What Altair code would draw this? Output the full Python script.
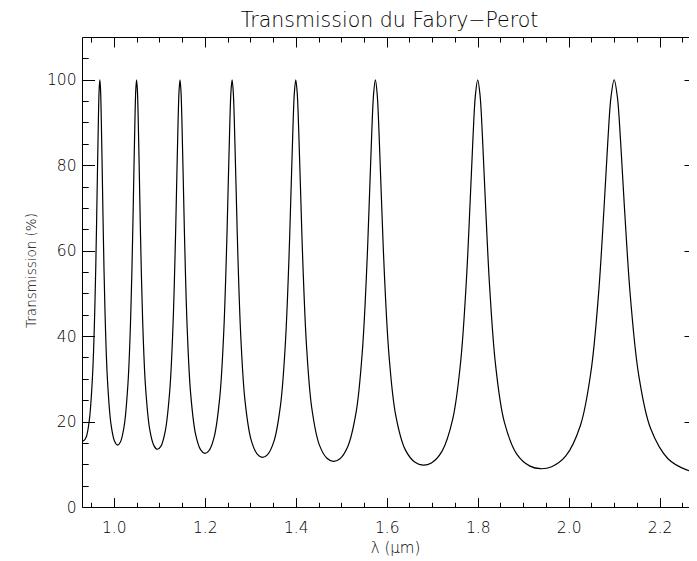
import altair as alt
import pandas as pd

# Wavelength (µm) and transmission (%)
wavelength_um = [
    0.93002, 0.93333, 0.93890, 0.94595, 0.95310, 0.95817, 0.96183, 0.96441, 0.96626, 0.96774,
    0.96923, 0.97072, 0.97222, 0.97410, 0.97674, 0.98055, 0.98592, 0.99369, 1.00159, 1.00800,
    1.01449, 1.02273, 1.03110, 1.03704, 1.04132, 1.04434, 1.04651, 1.04825, 1.05000, 1.05175,
    1.05351, 1.05572, 1.05882, 1.06329, 1.06961, 1.07877, 1.08808, 1.09565, 1.10333, 1.11307,
    1.12300, 1.13005, 1.13514, 1.13873, 1.14130, 1.14338, 1.14545, 1.14754, 1.14964, 1.15226,
    1.15596, 1.16129, 1.16883, 1.17978, 1.19093, 1.20000, 1.20921, 1.22093, 1.23288, 1.24138,
    1.24752, 1.25186, 1.25498, 1.25749, 1.26000, 1.26253, 1.26506, 1.26824, 1.27273, 1.27919,
    1.28834, 1.30165, 1.31524, 1.32632, 1.33758, 1.35193, 1.36659, 1.37705, 1.38462, 1.38996,
    1.39381, 1.39690, 1.40000, 1.40312, 1.40625, 1.41019, 1.41573, 1.42373, 1.43508, 1.45161,
    1.46853, 1.48235, 1.49644, 1.51442, 1.53285, 1.54601, 1.55556, 1.56231, 1.56716, 1.57107,
    1.57500, 1.57895, 1.58292, 1.58790, 1.59494, 1.60510, 1.61954, 1.64063, 1.66227, 1.68000,
    1.69811, 1.72131, 1.74515, 1.76224, 1.77465, 1.78344, 1.78977, 1.79487, 1.80000, 1.80516,
    1.81035, 1.81687, 1.82609, 1.83942, 1.85841, 1.88623, 1.91489, 1.93846, 1.96262, 1.99367,
    2.02572, 2.04878, 2.06557, 2.07749, 2.08609, 2.09302, 2.10000, 2.10702, 2.11409, 2.12300,
    2.13559, 2.15385, 2.17993, 2.21831, 2.25807, 2.28000,
]
transmission_pct = [
    15.82, 15.48, 16.25, 20.21, 30.61, 46.38, 65.03, 81.16, 91.84, 97.82,
    100.0, 97.81, 91.81, 81.02, 64.68, 45.80, 29.89, 19.43, 15.38, 14.49,
    15.22, 18.99, 28.98, 44.44, 63.23, 79.92, 91.23, 97.64, 100.0, 97.63,
    91.18, 79.76, 62.85, 43.84, 28.25, 18.21, 14.37, 13.52, 14.20, 17.77,
    27.32, 42.42, 61.29, 78.57, 90.55, 97.44, 100.0, 97.43, 90.49, 78.39,
    60.89, 41.80, 26.59, 16.99, 13.36, 12.56, 13.20, 16.55, 25.65, 40.33,
    59.23, 77.08, 89.78, 97.22, 100.0, 97.21, 89.72, 76.88, 58.80, 39.69,
    24.91, 15.78, 12.37, 11.62, 12.21, 15.35, 23.97, 38.18, 57.03, 75.44,
    88.92, 96.96, 100.0, 96.95, 88.84, 75.22, 56.57, 37.52, 23.23, 14.59,
    11.40, 10.70, 11.24, 14.17, 22.30, 35.98, 54.69, 73.64, 87.94, 96.67,
    100.0, 96.66, 87.86, 73.39, 54.21, 35.31, 21.57, 13.43, 10.46, 9.80,
    10.31, 13.03, 20.65, 33.75, 52.24, 71.68, 86.86, 96.33, 100.0, 96.32,
    86.77, 71.42, 51.75, 33.08, 19.94, 12.32, 9.56, 8.96, 9.43, 11.94,
    19.07, 31.56, 49.76, 69.62, 85.69, 95.97, 100.0, 95.95, 85.59, 69.35,
    49.27, 30.93, 18.41, 11.30, 8.75, 8.27,
]

x_major = [1.0, 1.2, 1.4, 1.6, 1.8, 2.0, 2.2]
x_minor = [0.95, 1.0, 1.05, 1.1, 1.15, 1.2, 1.25, 1.3, 1.35, 1.4, 1.45, 1.5, 1.55, 1.6,
           1.65, 1.7, 1.75, 1.8, 1.85, 1.9, 1.95, 2.0, 2.05, 2.1, 2.15, 2.2, 2.25]
y_major = [0, 20, 40, 60, 80, 100]
y_minor = [5, 10, 15, 20, 25, 30, 35, 40, 45, 50, 55, 60, 65, 70, 75, 80, 85, 90, 95, 100, 105]

title_text = "Transmission du Fabry−Perot"
x_title = "λ (μm)"
y_title = "Transmission (%)"

FONT = "DejaVu Sans"
INK = "#000000"
TEXT = "#000000"
WEIGHT = 200

df = pd.DataFrame({"lam": wavelength_um, "T": transmission_pct})

xs = alt.Scale(domain=[0.93, 2.2645], nice=False, zero=False)
ys = alt.Scale(domain=[0, 110], nice=False, zero=False)


def tick_axis(orient, values, size):
    return alt.Axis(orient=orient, values=values, offset=-size, tickSize=size,
                    ticks=True, tickColor=INK, tickWidth=1, domain=False,
                    labels=False, grid=False, title=None)


def layer(xaxis, yaxis, visible=False):
    return alt.Chart(df).mark_line(
        interpolate="catmull-rom", color=INK, strokeWidth=1.2, clip=True,
        opacity=1 if visible else 0,
    ).encode(
        x=alt.X("lam:Q", scale=xs, axis=xaxis),
        y=alt.Y("T:Q", scale=ys, axis=yaxis),
    )


x_main = alt.Axis(
    orient="bottom", values=x_major, format=".1f", ticks=False, domain=True,
    domainColor=INK, domainWidth=1, grid=False, labelFont=FONT, labelFontSize=15.5,
    labelFontWeight=WEIGHT, labelColor=TEXT, labelPadding=13, labelFlush=False,
    title=x_title, titleFont=FONT, titleFontSize=15, titleFontWeight=WEIGHT,
    titleColor=TEXT, titleX=313, titleY=45, titleBaseline="alphabetic", titleAlign="center",
)
y_main = alt.Axis(
    orient="left", values=y_major, format="d", ticks=False, domain=True,
    domainColor=INK, domainWidth=1, grid=False, labelFont=FONT, labelFontSize=15.5,
    labelFontWeight=WEIGHT, labelColor=TEXT, labelPadding=6, labelFlush=False,
    title=y_title, titleFont=FONT, titleFontSize=13.5, titleFontWeight=WEIGHT,
    titleColor=TEXT, titleX=-47, titleY=233, titleBaseline="alphabetic", titleAlign="center",
)
x_top_line = alt.Axis(orient="top", ticks=False, labels=False, domain=True,
                      domainColor=INK, domainWidth=1, grid=False, title=None)

chart = alt.layer(
    layer(x_main, y_main, visible=True),
    layer(tick_axis("bottom", x_major, 9.4), tick_axis("left", y_major, 12.5)),
    layer(tick_axis("bottom", x_minor, 4.7), tick_axis("left", y_minor, 6.2)),
    layer(x_top_line, tick_axis("right", y_major, 5)),
    layer(tick_axis("top", x_major, 10), None),
    layer(tick_axis("top", x_minor, 5), None),
).resolve_axis(
    x="independent", y="independent"
).properties(
    width=607,
    height=470,
    title=alt.TitleParams(title_text, font=FONT, fontSize=20.5, fontWeight=WEIGHT,
                          color=TEXT, anchor="middle", frame="group",
                          baseline="alphabetic", offset=9, dx=4, dy=20),
    autosize=alt.AutoSizeParams(type="none"),
    padding={"left": 74, "top": 29, "right": 0, "bottom": 52},
).configure_view(stroke=None)

chart.save("out.html", embed_options={"renderer": "svg", "actions": False})
